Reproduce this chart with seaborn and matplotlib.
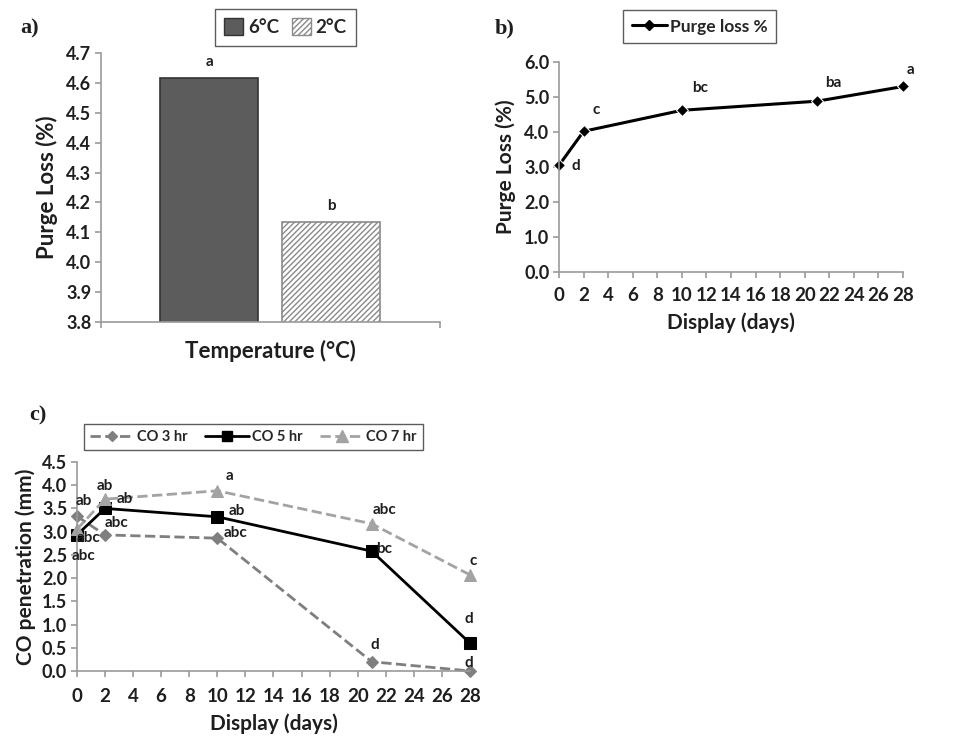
import matplotlib
matplotlib.use("Agg")
import matplotlib.pyplot as plt
import matplotlib.patches as mpatches
from matplotlib.lines import Line2D
import numpy as np
import pandas as pd
import seaborn as sns

# --- dane ---
temps = ["6°C", "2°C"]
temp_loss = [4.615, 4.133]
temp_letters = ["a", "b"]

days = [0, 2, 10, 21, 28]
purge_loss = [3.05, 4.02, 4.62, 4.88, 5.30]
purge_letters = ["d", "c", "bc", "ba", "a"]
purge_letter_pos = [(1.4, 3.04), (3.0, 4.62), (11.5, 5.27), (22.3, 5.41), (28.6, 5.77)]

co3 = [3.33, 2.93, 2.86, 0.20, 0.00]
co5 = [2.93, 3.50, 3.32, 2.58, 0.60]
co7 = [3.05, 3.70, 3.88, 3.17, 2.07]
co_letters = ["ab", "ab", "ab", "abc", "abc", "abc", "a", "ab", "abc",
              "abc", "bc", "d", "c", "d", "d"]
co_letter_pos = [(0.5, 3.67), (2.0, 3.98), (3.4, 3.70), (2.8, 3.19), (0.8, 2.86),
                 (0.5, 2.47), (10.9, 4.19), (11.4, 3.44), (11.3, 2.98),
                 (21.9, 3.46), (21.9, 2.63), (21.2, 0.57), (28.2, 2.36),
                 (27.9, 1.11), (27.9, 0.18)]

sns.set_style("white")
plt.rcParams["font.family"] = ["Lato", "DejaVu Sans"]
plt.rcParams["font.weight"] = "bold"
plt.rcParams["axes.labelweight"] = "bold"

SPINE = "#9a9a9a"
TXT = "#1e1e1e"


def style_axes(ax, size=13):
    sns.despine(ax=ax)
    for s in ["left", "bottom"]:
        ax.spines[s].set_color(SPINE)
        ax.spines[s].set_linewidth(1.2)
    ax.tick_params(axis="both", direction="out", length=4, width=1.2, color=SPINE,
                   labelsize=size, labelcolor=TXT, left=True, bottom=True, pad=3)
    for lab in ax.get_xticklabels() + ax.get_yticklabels():
        lab.set_fontweight("bold")


fig = plt.figure(figsize=(9.68, 7.38), dpi=100)

# --- a) ---
ax_a = fig.add_axes([0.1043, 0.5637, 0.3502, 0.3645])
df_a = pd.DataFrame({"Temperature": temps, "loss": temp_loss})
sns.barplot(data=df_a, x="Temperature", y="loss", hue="Temperature",
            palette=["#5c5c5c", "white"], width=0.8, edgecolor="#333333",
            linewidth=1.2, legend=False, ax=ax_a)
bars = ax_a.patches
plt.rcParams["hatch.color"] = "#8a8a8a"
bars[1].set_hatch("//////")
bars[1].set_edgecolor("#8a8a8a")
for i, (v, t) in enumerate(zip(temp_loss, temp_letters)):
    ax_a.text(i, v + 0.03, t, ha="center", va="bottom", fontsize=11, fontweight="bold", color=TXT)
ax_a.set_ylim(3.8, 4.7)
ax_a.set_xlim(-0.885, 1.89)
ax_a.set_yticks(np.arange(3.8, 4.71, 0.1))
ax_a.set_yticklabels([f"{v:.1f}" for v in np.arange(3.8, 4.71, 0.1)])
ax_a.set_xticks([-0.885, 1.89])
ax_a.set_xticklabels(["", ""])
ax_a.set_xlabel("Temperature (°C)", fontsize=16, color=TXT, labelpad=6)
ax_a.set_ylabel("Purge Loss (%)", fontsize=16, color=TXT, labelpad=6)
style_axes(ax_a)
h_a = [mpatches.Patch(facecolor="#5c5c5c", edgecolor="#333333", label=temps[0]),
       mpatches.Patch(facecolor="white", edgecolor="#8a8a8a", hatch="//////", label=temps[1])]
fig.legend(handles=h_a, loc="center", bbox_to_anchor=(0.295, 0.963), ncol=2,
           frameon=True, fancybox=False, edgecolor="#333333",
           handlelength=1.0, handleheight=1.0, columnspacing=0.7, handletextpad=0.25,
           borderpad=0.5, prop={"weight": "bold", "size": 13.5})

# --- b) ---
ax_b = fig.add_axes([0.5775, 0.6314, 0.3554, 0.2846])
df_b = pd.DataFrame({"Display": days, "Purge loss %": purge_loss})
sns.lineplot(data=df_b, x="Display", y="Purge loss %", marker="D", markersize=6,
             color="black", linewidth=2.2, ax=ax_b, legend=False, clip_on=False)
for t, (x, y) in zip(purge_letters, purge_letter_pos):
    ax_b.text(x, y, t, ha="center", va="center", fontsize=11, fontweight="bold", color=TXT)
ax_b.set_xlim(0, 28)
ax_b.set_ylim(0, 6)
ax_b.set_xticks(range(0, 29, 2))
ax_b.set_yticks(range(0, 7))
ax_b.set_yticklabels([f"{v:.1f}" for v in range(0, 7)])
ax_b.set_xlabel("Display (days)", fontsize=15, color=TXT, labelpad=6)
ax_b.set_ylabel("Purge Loss (%)", fontsize=15, color=TXT, labelpad=6)
style_axes(ax_b)
ax_b.tick_params(axis="x", labelsize=13.5, pad=7)
h_b = [Line2D([], [], color="black", lw=2.2, marker="D", markersize=5, label="Purge loss %")]
fig.legend(handles=h_b, loc="center", bbox_to_anchor=(0.723, 0.964), frameon=True,
           fancybox=False, edgecolor="#333333", handlelength=2.0, handletextpad=0.2,
           borderpad=0.5, prop={"weight": "bold", "size": 12.5})

# --- c) ---
ax_c = fig.add_axes([0.0795, 0.0908, 0.406, 0.2832])
df_c = pd.DataFrame({"Display": days * 3,
                     "CO": co3 + co5 + co7,
                     "Group": ["CO 3 hr"] * 5 + ["CO 5 hr"] * 5 + ["CO 7 hr"] * 5})
styles = {"CO 3 hr": ("#7f7f7f", "D", True, 6),
          "CO 5 hr": ("black", "s", False, 8),
          "CO 7 hr": ("#a3a3a3", "^", True, 9)}
for g, (col, mk, dashed, ms) in styles.items():
    sub = df_c[df_c["Group"] == g]
    sns.lineplot(data=sub, x="Display", y="CO", color=col, marker=mk, markersize=ms,
                 markeredgecolor=col, linewidth=2.0, ax=ax_c, legend=False,
                 linestyle="--" if dashed else "-", clip_on=False)
for t, (x, y) in zip(co_letters, co_letter_pos):
    ax_c.text(x, y, t, ha="center", va="center", fontsize=11, fontweight="bold", color=TXT)
ax_c.set_xlim(0, 28)
ax_c.set_ylim(0, 4.5)
ax_c.set_xticks(range(0, 29, 2))
ax_c.set_yticks(np.arange(0, 4.51, 0.5))
ax_c.set_yticklabels([f"{v:.1f}" for v in np.arange(0, 4.51, 0.5)])
ax_c.set_xlabel("Display (days)", fontsize=15, color=TXT, labelpad=6)
ax_c.set_ylabel("CO penetration (mm)", fontsize=15, color=TXT, labelpad=4)
style_axes(ax_c)
ax_c.tick_params(axis="x", labelsize=13.5, pad=8)
h_c = [Line2D([], [], color=styles[g][0], lw=2.0, ls="--" if styles[g][2] else "-",
              marker=styles[g][1], markersize=styles[g][3] - 1, label=g) for g in styles]
fig.legend(handles=h_c, loc="center", bbox_to_anchor=(0.262, 0.408), ncol=3, frameon=True,
           fancybox=False, edgecolor="#333333", handlelength=3.0, handletextpad=0.2,
           columnspacing=1.2, borderpad=0.4, prop={"weight": "bold", "size": 10.5})

# panel letters
for lab, (x, y) in {"a)": (0.021, 0.962), "b)": (0.511, 0.962), "c)": (0.030, 0.437)}.items():
    fig.text(x, y, lab, fontsize=16, fontweight="bold", family="Liberation Serif",
             color=TXT, va="center")

fig.savefig("out.png", dpi=100)
